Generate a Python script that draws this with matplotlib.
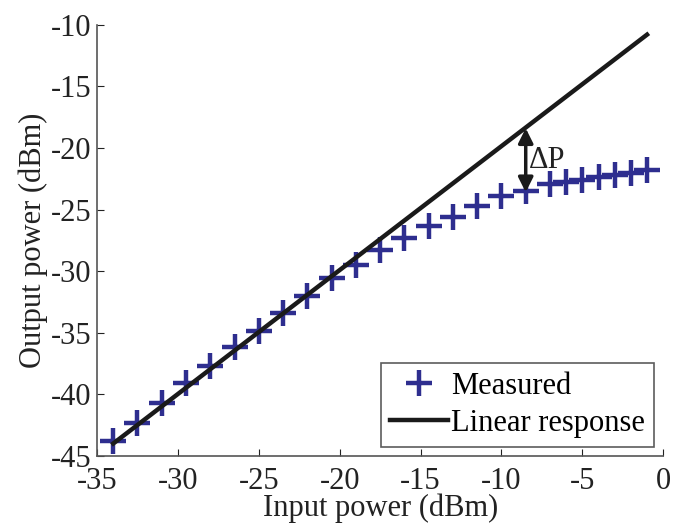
import matplotlib.pyplot as plt

plt.rcParams['font.family'] = ['Liberation Serif', 'DejaVu Serif']

# Medidas (dBm)
x_meas = [-34, -32.5, -31, -29.5, -28, -26.5, -25, -23.5, -22, -20.5, -19, -17.5,
          -16, -14.5, -13, -11.5, -10, -8.5, -7, -6, -5, -4, -3, -2, -1]
y_meas = [-43.8, -42.3, -40.7, -39.1, -37.7, -36.2, -34.9, -33.4, -32.0, -30.6,
          -29.5, -28.3, -27.3, -26.3, -25.6, -24.7, -23.9, -23.5, -22.9, -22.8,
          -22.6, -22.4, -22.2, -22.0, -21.8]

# Respuesta lineal
x_lin = [-34, -1]
y_lin = [-44, -10.8]

# Flecha Delta P
dp_x = -8.5
dp_top = -18.4
dp_bot = -23.6

fig = plt.figure(figsize=(6.74, 5.27), dpi=100)
ax = fig.add_axes([0.144, 0.135, 0.840, 0.818])

ax.plot(x_meas, y_meas, '+', color='#2e2e8f', markersize=19, markeredgewidth=3.2,
        label='Measured')
ax.plot(x_lin, y_lin, '-', color='#1a1a1a', linewidth=3.2, label='Linear response')

ax.annotate('', xy=(dp_x, dp_top), xytext=(dp_x, dp_bot),
            arrowprops=dict(arrowstyle='<|-|>', color='#1a1a1a', lw=2.5,
                            mutation_scale=22, shrinkA=0, shrinkB=0))
ax.text(dp_x + 0.2, -21.0, 'ΔP', fontsize=22, color='#222222', va='center', ha='left')

ax.set_xlim(-35, 0)
ax.set_ylim(-45, -10)
ax.set_xticks(range(-35, 1, 5))
ax.set_yticks(range(-45, -9, 5))
ax.set_xticklabels([str(v) for v in range(-35, 1, 5)])
ax.set_yticklabels([str(v) for v in range(-45, -9, 5)])

ax.spines['top'].set_visible(False)
ax.spines['right'].set_visible(False)
for s in ['left', 'bottom']:
    ax.spines[s].set_color('#555555')
    ax.spines[s].set_linewidth(1.2)
ax.tick_params(direction='in', length=5, labelsize=22, colors='#222222')
ax.tick_params(axis='x', pad=8)
ax.tick_params(axis='y', pad=4)

ax.set_xlabel('Input power (dBm)', fontsize=22, color='#222222', labelpad=-2)
ax.set_ylabel('Output power (dBm)', fontsize=22, color='#222222', labelpad=2)

leg = ax.legend(loc='lower right', fontsize=22, frameon=True, fancybox=False,
                handlelength=1.9, handletextpad=0.1, borderpad=0.3,
                labelspacing=0.25, borderaxespad=0.3)
leg.get_frame().set_edgecolor('#333333')
leg.get_frame().set_linewidth(1.2)

fig.savefig('out.png', dpi=100)
